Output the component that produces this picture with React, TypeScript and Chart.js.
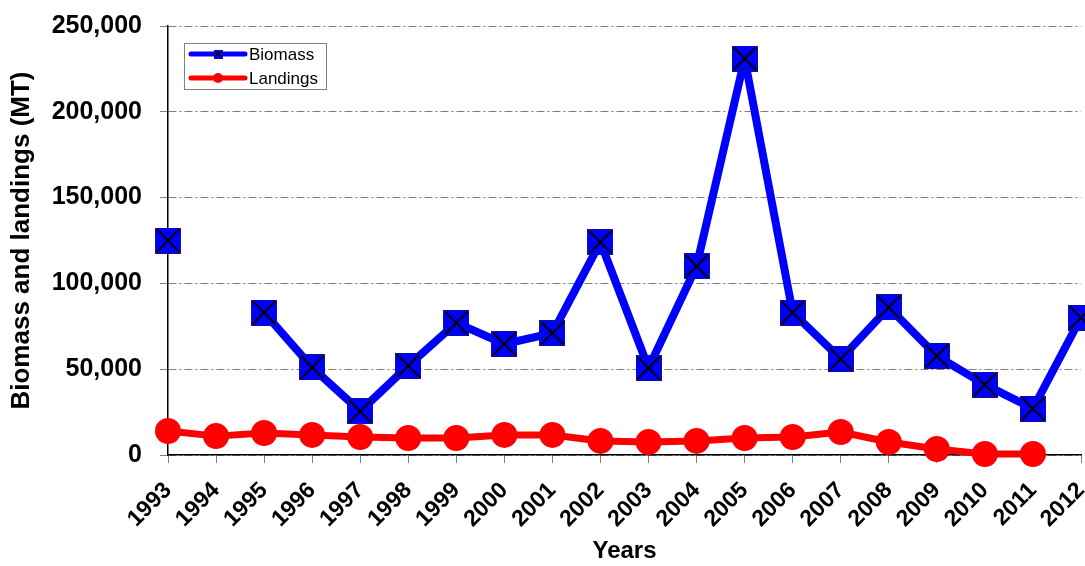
import React, { useEffect, useRef } from "react";
import { Chart, registerables } from "chart.js";

Chart.register(...registerables);

const years = ["1993","1994","1995","1996","1997","1998","1999","2000","2001","2002","2003","2004","2005","2006","2007","2008","2009","2010","2011","2012"];
const biomass = [125000, null, 83000, 51000, 25500, 52000, 77000, 64700, 71000, 124000, 50700, 110000, 231000, 83000, 56000, 86000, 57700, 41000, 27000, 80000];
const landings = [14000, 11000, 12800, 11700, 10500, 9900, 9900, 11700, 11700, 8200, 7600, 8200, 9900, 10500, 13400, 7600, 3500, 600, 600, null];
const yTicks = [0, 50000, 100000, 150000, 200000, 250000];

const FONT = "'Liberation Sans', Arial, sans-serif";

function makeCrossSquare(size: number, lw: number): HTMLCanvasElement {
  const c = document.createElement("canvas");
  c.width = size;
  c.height = size;
  const g = c.getContext("2d")!;
  g.fillStyle = "#0000ff";
  g.fillRect(0, 0, size, size);
  g.strokeStyle = "#1010a0";
  g.lineWidth = 1;
  g.strokeRect(0.5, 0.5, size - 1, size - 1);
  g.strokeStyle = "#000000";
  g.lineWidth = lw;
  g.beginPath();
  g.moveTo(2, 2);
  g.lineTo(size - 2, size - 2);
  g.moveTo(size - 2, 2);
  g.lineTo(2, size - 2);
  g.stroke();
  return c;
}

const legendPlugin = {
  id: "customLegend",
  afterDraw(chart: any) {
    const ctx = chart.ctx as CanvasRenderingContext2D;
    ctx.save();
    const x0 = 184, y0 = 43, w = 142, h = 46;
    ctx.fillStyle = "#ffffff";
    ctx.fillRect(x0, y0, w, h);
    ctx.strokeStyle = "#808080";
    ctx.lineWidth = 1;
    ctx.strokeRect(x0 + 0.5, y0 + 0.5, w, h);
    const rows = [
      { label: "Biomass", color: "#0000ff", y: 54, kind: "sq" },
      { label: "Landings", color: "#ff0000", y: 78, kind: "ci" },
    ];
    for (const r of rows) {
      ctx.strokeStyle = r.color;
      ctx.lineWidth = 5;
      ctx.lineCap = "round";
      ctx.beginPath();
      ctx.moveTo(191, r.y);
      ctx.lineTo(245, r.y);
      ctx.stroke();
      if (r.kind === "sq") {
        const img = makeCrossSquare(9, 1.5);
        ctx.drawImage(img, 218 - 4.5, r.y - 4.5);
      } else {
        ctx.fillStyle = r.color;
        ctx.beginPath();
        ctx.arc(218, r.y, 5, 0, Math.PI * 2);
        ctx.fill();
      }
      ctx.fillStyle = "#000000";
      ctx.font = `17px ${FONT}`;
      ctx.textBaseline = "middle";
      ctx.textAlign = "left";
      ctx.fillText(r.label, 249, r.y + 1);
    }
    ctx.restore();
  },
};

export default function App() {
  const ref = useRef<HTMLCanvasElement | null>(null);
  useEffect(() => {
    document.body.style.margin = "0";
    const marker = makeCrossSquare(26, 2);
    const chart = new Chart(ref.current!, {
      type: "line",
      data: {
        labels: years,
        datasets: [
          {
            label: "Biomass",
            data: biomass,
            borderColor: "#0000ff",
            backgroundColor: "#0000ff",
            borderWidth: 8,
            borderJoinStyle: "round",
            pointStyle: marker as any,
            pointRadius: 13,
            spanGaps: false,
            clip: false as any,
            tension: 0,
          },
          {
            label: "Landings",
            data: landings,
            borderColor: "#ff0000",
            backgroundColor: "#ff0000",
            borderWidth: 7,
            borderJoinStyle: "round",
            pointStyle: "circle",
            pointRadius: 13,
            pointBorderWidth: 0,
            clip: false as any,
            tension: 0,
          },
        ],
      },
      options: {
        responsive: false,
        animation: false,
        layout: { autoPadding: false, padding: { top: 26, right: 4, left: 0, bottom: 0 } },
        plugins: { legend: { display: false }, tooltip: { enabled: false } },
        scales: {
          x: {
            type: "category",
            offset: false,
            grid: {
              drawOnChartArea: false,
              drawTicks: true,
              tickLength: 8,
              color: "#808080",
            },
            border: { display: true, color: "#000000", width: 1.5 },
            ticks: {
              color: "#000000",
              font: { family: FONT, size: 23, weight: "bold" },
              maxRotation: 45,
              minRotation: 45,
              autoSkip: false,
              padding: 14,
            },
            title: {
              display: true,
              text: "Years",
              color: "#000000",
              font: { family: FONT, size: 24, weight: "bold" },
              padding: { top: 0, bottom: 0 },
            },
            afterFit: (s: any) => {
              s.height = 111;
              s.paddingLeft = 0;
              s.paddingRight = 0;
            },
          },
          y: {
            min: 0,
            max: 250000,
            afterBuildTicks: (s: any) => {
              s.ticks = yTicks.map((v) => ({ value: v }));
            },
            grid: {
              color: "#808080",
              lineWidth: 1,
              tickLength: 8,
            },
            border: { display: true, color: "#000000", width: 1.5, dash: [8, 3, 2, 3] },
            ticks: {
              color: "#000000",
              font: { family: FONT, size: 25, weight: "bold" },
              padding: 18,
              callback: (v: any) => Number(v).toLocaleString("en-US"),
            },
            title: {
              display: true,
              text: "Biomass and landings (MT)",
              color: "#000000",
              font: { family: FONT, size: 26, weight: "bold" },
              padding: { top: 6, bottom: 0 },
            },
            afterFit: (s: any) => {
              s.width = 168;
              s.paddingTop = 0;
              s.paddingBottom = 0;
            },
          },
        },
      },
      plugins: [legendPlugin],
    });
    return () => chart.destroy();
  }, []);
  return (
    <div style={{ width: 1085, height: 566, background: "#fff" }}>
      <canvas ref={ref} width={1085} height={566} />
    </div>
  );
}
